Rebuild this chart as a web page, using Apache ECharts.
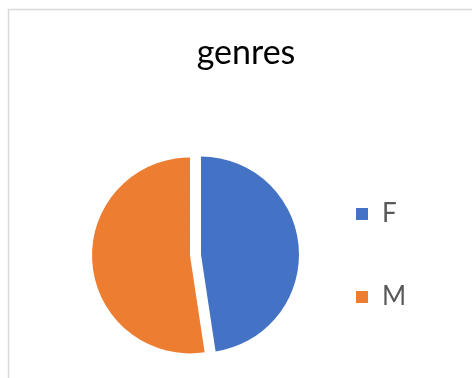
<!DOCTYPE html>
<html>
<head>
<meta charset="utf-8">
<script src="https://cdn.jsdelivr.net/npm/echarts@6/dist/echarts.min.js"></script>
<style>
  html, body { margin: 0; padding: 0; background: #fff; }
  #chart { width: 472px; height: 378px; }
</style>
</head>
<body>
<div id="chart"></div>
<script>
// genres pie
const categories = ["F", "M"];
const counts = [10, 11];
const colors = ["#4472C4", "#ED7D31"];

const chart = echarts.init(document.getElementById("chart"));
chart.setOption({
  animation: false,
  title: {
    text: "genres",
    left: 241,
    top: 31,
    textAlign: "center",
    textStyle: {
      fontFamily: "Lato",
      fontSize: 34,
      fontWeight: "normal",
      color: "#000"
    }
  },
  graphic: [
    {
      type: "rect",
      shape: { x: 8.5, y: 9.5, width: 480, height: 400 },
      style: { fill: "none", stroke: "#d9d9d9", lineWidth: 1.5 },
      silent: true
    }
  ],
  legend: {
    orient: "vertical",
    left: 351,
    top: 196,
    itemWidth: 12,
    itemHeight: 12,
    itemGap: 57,
    icon: "rect",
    selectedMode: false,
    textStyle: {
      fontFamily: "Lato",
      fontSize: 26,
      color: "#595959",
      padding: [0, 0, 0, 9]
    },
    data: categories
  },
  series: [
    {
      type: "pie",
      center: [195.5, 255],
      radius: 98,
      startAngle: 90,
      clockwise: true,
      selectedMode: "multiple",
      selectedOffset: 5.5,
      label: { show: false },
      labelLine: { show: false },
      emphasis: { disabled: true },
      select: { itemStyle: { borderWidth: 0 } },
      data: categories.map((name, i) => ({
        name: name,
        value: counts[i],
        selected: true,
        itemStyle: { color: colors[i] }
      }))
    }
  ]
});
</script>
</body>
</html>
